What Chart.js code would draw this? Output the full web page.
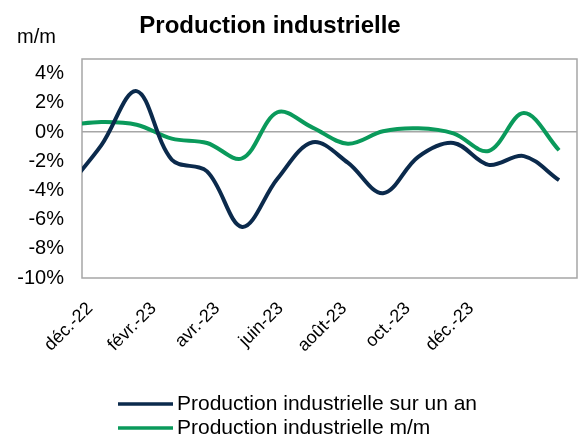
<!DOCTYPE html>
<html>
<head>
<meta charset="utf-8">
<script src="https://cdn.jsdelivr.net/npm/chart.js@4/dist/chart.umd.min.js"></script>
<style>
  html, body { margin: 0; padding: 0; background: #fff; }
</style>
</head>
<body>
<canvas id="chart" width="580" height="438"></canvas>
<script>
const chartTitle = "Production industrielle";
const unitLabel = "m/m";
const monthLabels = ["déc.-22", "févr.-23", "avr.-23", "juin-23", "août-23", "oct.-23", "déc.-23"];
const seriesNames = ["Production industrielle sur un an", "Production industrielle m/m"];
const yearOnYear = [-3.9, -0.9, 2.8, -1.9, -2.7, -6.5, -3.2, -0.7, -2.1, -4.2, -1.7, -0.75, -2.25, -1.65, -3.3];
const monthOnMonth = [0.45, 0.68, 0.5, -0.45, -0.75, -1.8, 1.35, 0.3, -0.8, 0.05, 0.25, -0.1, -1.3, 1.3, -1.25];
const yTicks = [-10, -8, -6, -4, -2, 0, 2, 4];

const navy = "#0b2a4c";
const green = "#0a9a5b";

Chart.defaults.font.family = '"Liberation Sans", Arial, sans-serif';
Chart.defaults.color = "#000";

// frame around the plot area
const framePlugin = {
  id: "frame",
  beforeDatasetsDraw(chart) {
    const { ctx, chartArea: a } = chart;
    ctx.save();
    ctx.strokeStyle = "#a6a6a6";
    ctx.lineWidth = 1.5;
    ctx.strokeRect(a.left, a.top, a.right - a.left, a.bottom - a.top);
    ctx.restore();
  },
};

// title, unit and a left aligned legend
const textPlugin = {
  id: "texts",
  afterDraw(chart) {
    const ctx = chart.ctx;
    ctx.save();
    ctx.fillStyle = "#000";
    ctx.textBaseline = "middle";
    ctx.font = 'bold 24px "Liberation Sans", Arial, sans-serif';
    ctx.textAlign = "center";
    ctx.fillText(chartTitle, 270, 26);
    ctx.font = '20px "Liberation Sans", Arial, sans-serif';
    ctx.textAlign = "left";
    ctx.fillText(unitLabel, 17, 37);

    ctx.font = '21px "Liberation Sans", Arial, sans-serif';
    chart.data.datasets.forEach((ds, i) => {
      const y = 404 + i * 24;
      ctx.strokeStyle = ds.borderColor;
      ctx.lineWidth = 3.5;
      ctx.beginPath();
      ctx.moveTo(118, y);
      ctx.lineTo(173, y);
      ctx.stroke();
      ctx.fillText(ds.label, 177, y);
    });
    ctx.restore();
  },
};

new Chart(document.getElementById("chart"), {
  type: "line",
  data: {
    datasets: [
      {
        label: seriesNames[0],
        data: yearOnYear.map((v, i) => ({ x: i, y: v })),
        borderColor: navy,
        borderWidth: 4,
        pointRadius: 0,
        tension: 0.35,
        xAxisID: "x",
      },
      {
        label: seriesNames[1],
        data: monthOnMonth.map((v, i) => ({ x: i, y: v })),
        borderColor: green,
        borderWidth: 4,
        pointRadius: 0,
        tension: 0.35,
        xAxisID: "x",
      },
    ],
  },
  options: {
    responsive: false,
    animation: false,
    layout: { padding: { top: 59, right: 3, left: 0, bottom: 0 } },
    plugins: {
      legend: { display: false },
      tooltip: { enabled: false },
    },
    scales: {
      x: {
        type: "linear",
        display: false,
        min: 0.449,
        max: 14.51,
      },
      months: {
        type: "linear",
        axis: "x",
        position: "bottom",
        min: -0.252,
        max: 15.334,
        grid: { display: false },
        border: { display: false },
        afterFit(scale) { scale.height = 160; },
        ticks: {
          stepSize: 2,
          includeBounds: false,
          autoSkip: false,
          minRotation: 45,
          maxRotation: 45,
          padding: 12,
          font: { size: 18 },
          callback: (v) => monthLabels[v / 2] ?? null,
        },
      },
      y: {
        min: -10,
        max: 5,
        afterFit(scale) { scale.width = 82; },
        afterBuildTicks(scale) { scale.ticks = yTicks.map((v) => ({ value: v })); },
        grid: {
          drawTicks: false,
          lineWidth: 1.5,
          color: (c) => (c.tick && c.tick.value === 0 ? "#a6a6a6" : "rgba(0,0,0,0)"),
        },
        border: { display: false },
        ticks: {
          padding: 18,
          font: { size: 20 },
          callback: (v) => v + "%",
        },
      },
    },
  },
  plugins: [framePlugin, textPlugin],
});
</script>
</body>
</html>
